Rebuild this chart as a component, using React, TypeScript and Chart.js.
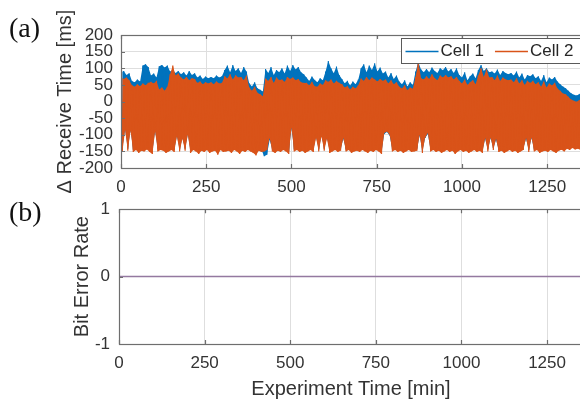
import React, { useEffect, useRef } from "react";
import { Chart, registerables } from "chart.js";

Chart.register(...registerables);

// ---------------- data ----------------
// envelope samples every 8 minutes (upper / lower excursion of each trace)
const SAMPLE_STEP_MIN = 8;
const X_MAX_MIN = 1355;

const cell1High = [
  88, 92, 80, 85, 62, 58, 66, 60, 108, 112,
  104, 78, 84, 72, 106, 110, 102, 108, 90, 95,
  86, 92, 82, 88, 78, 92, 80, 85, 72, 78,
  68, 75, 70, 74, 70, 78, 72, 76, 95, 108,
  88, 110, 92, 100, 86, 104, 90, 55, 45, 58,
  40, 35, 30, 98, 86, 104, 80, 95, 88, 100,
  84, 108, 92, 110, 96, 104, 88, 82, 72, 62,
  75, 65, 58, 70, 64, 90, 122, 100, 85, 105,
  80, 68, 55, 62, 48, 60, 52, 66, 100, 112,
  88, 108, 95, 115, 90, 102, 84, 90, 72, 86,
  68, 78, 60, 52, 64, 45, 58, 50, 90, 118,
  96, 88, 98, 88, 102, 92, 86, 100, 94, 104,
  90, 98, 86, 100, 80, 72, 88, 64, 76, 84,
  70, 95, 110, 92, 100, 88, 90, 84, 96, 80,
  92, 86, 82, 86, 78, 90, 72, 84, 66, 80,
  76, 82, 70, 76, 62, 80, 58, 72, 66, 74,
  60, 52, 45, 40, 32, 25, 20, 18, 22, 30,
];

const cell1Low = [
  -140, -84, -142, -86, -145, -140, -146, -142, -144, -138,
  -146, -150, -88, -142, -140, -142, -148, -144, -140, -146,
  -102, -144, -110, -142, -98, -148, -140, -144, -150, -142,
  -146, -140, -148, -144, -142, -152, -140, -146, -144, -142,
  -148, -140, -144, -150, -142, -146, -140, -144, -148, -158,
  -142, -146, -165, -160, -115, -144, -148, -142, -146, -140,
  -144, -150, -80, -144, -140, -146, -142, -148, -144, -140,
  -146, -105, -144, -102, -142, -108, -148, -144, -140, -146,
  -142, -112, -144, -140, -148, -144, -142, -146, -140, -144,
  -148, -142, -146, -140, -144, -150, -98, -92, -102, -144,
  -140, -146, -142, -148, -144, -140, -146, -144, -142, -102,
  -148, -110, -98, -144, -140, -146, -142, -148, -144, -140,
  -146, -142, -150, -144, -140, -146, -142, -148, -144, -140,
  -146, -142, -148, -112, -144, -110, -140, -115, -146, -142,
  -148, -144, -140, -146, -142, -148, -144, -140, -112, -146,
  -110, -144, -140, -148, -144, -142, -146, -140, -144, -148,
  -142, -140, -144, -136, -140, -134, -138, -136, -140, -144,
];

const cell2High = [
  74, 68, 72, 64, 49, 44, 52, 46, 54, 49,
  56, 59, 54, 62, 36, 42, 32, 44, 82, 108,
  78, 84, 72, 66, 74, 64, 70, 68, 56, 60,
  52, 58, 54, 58, 52, 60, 54, 56, 76, 69,
  82, 66, 79, 72, 74, 64, 78, 42, 32, 44,
  26, 22, 16, 69, 62, 74, 56, 72, 64, 66,
  59, 74, 68, 72, 64, 68, 58, 56, 56, 49,
  59, 46, 44, 54, 50, 64, 59, 66, 54, 62,
  56, 52, 42, 46, 36, 44, 39, 49, 69, 62,
  74, 64, 72, 66, 60, 68, 62, 66, 54, 64,
  52, 58, 44, 39, 49, 34, 42, 38, 74, 120,
  70, 66, 76, 68, 82, 70, 64, 78, 72, 80,
  72, 76, 66, 74, 62, 54, 66, 50, 58, 64,
  52, 78, 100, 74, 96, 72, 74, 64, 78, 62,
  72, 66, 64, 66, 58, 70, 54, 64, 50, 62,
  56, 62, 52, 58, 44, 60, 42, 54, 48, 56,
  39, 32, 24, 22, 14, 6, 2, -1, 4, 12,
];

const cell2Low = [
  -150, -86, -148, -88, -152, -146, -155, -148, -150, -144,
  -152, -158, -90, -150, -146, -148, -155, -150, -146, -152,
  -105, -150, -112, -148, -100, -155, -146, -150, -158, -148,
  -152, -146, -155, -150, -148, -160, -146, -152, -150, -148,
  -155, -146, -150, -158, -148, -152, -146, -150, -155, -162,
  -148, -152, -150, -146, -110, -150, -155, -148, -152, -146,
  -150, -158, -78, -150, -146, -152, -148, -155, -150, -146,
  -152, -110, -150, -105, -148, -112, -155, -150, -146, -152,
  -148, -110, -150, -146, -155, -150, -148, -152, -146, -150,
  -155, -148, -152, -146, -150, -158, -95, -90, -100, -150,
  -146, -152, -148, -155, -150, -146, -152, -150, -148, -100,
  -155, -108, -95, -150, -146, -152, -148, -155, -150, -146,
  -152, -148, -158, -150, -146, -152, -148, -155, -150, -146,
  -152, -148, -155, -110, -150, -108, -146, -112, -152, -148,
  -155, -150, -146, -152, -148, -155, -150, -146, -110, -152,
  -108, -150, -146, -155, -150, -148, -152, -146, -150, -155,
  -148, -145, -150, -142, -146, -140, -144, -142, -146, -150,
];

const berTime = [0, 250, 500, 750, 1000, 1250, 1355];
const berValue = [0, 0, 0, 0, 0, 0, 0];

const xTickValues = [0, 250, 500, 750, 1000, 1250];
const seriesLabels = ["Cell 1", "Cell 2"];

// ---------------- styles ----------------
const FONT = "'Liberation Sans', Arial, Helvetica, sans-serif";
const BLUE = "#0072BD";
const ORANGE = "#D95319";
const PURPLE = "#9479a0";
const GRID = "#dedede";
const BORDER = "#6e6e6e";
const TEXT = "#333333";

type Pt = { x: number; y: number };

function zigzag(hi: number[], lo: number[]): Pt[] {
  const pts: Pt[] = [];
  for (let i = 0; i < hi.length; i++) {
    const t = i * SAMPLE_STEP_MIN;
    pts.push({ x: t, y: hi[i] });
    pts.push({ x: t + SAMPLE_STEP_MIN / 2, y: lo[i] });
  }
  return pts;
}
function envelope(vals: number[], offset: number): Pt[] {
  return vals.map((v, i) => ({ x: i * SAMPLE_STEP_MIN + offset, y: v }));
}

const plainTick = (v: any) => String(v);

function traceDatasets(label: string, legendIndex: number, color: string, hi: number[], lo: number[], baseOrder: number, width: number) {
  return [
    {
      label,
      legendIndex,
      data: zigzag(hi, lo),
      borderColor: color,
      borderWidth: width,
      borderJoinStyle: "bevel",
      pointRadius: 0,
      tension: 0,
      order: baseOrder,
    },
    {
      label: label + " upper",
      data: envelope(hi, 0),
      borderWidth: 0,
      borderColor: "rgba(0,0,0,0)",
      backgroundColor: color,
      fill: "+1",
      pointRadius: 0,
      tension: 0,
      order: baseOrder + 1,
    },
    {
      label: label + " lower",
      data: envelope(lo, SAMPLE_STEP_MIN / 2),
      borderWidth: 0,
      borderColor: "rgba(0,0,0,0)",
      fill: false,
      pointRadius: 0,
      tension: 0,
      order: baseOrder + 2,
    },
  ];
}

function boxPlugin(panelLabel: string, labelY: number, legend: boolean) {
  return {
    id: "matlabBox" + panelLabel,
    afterDatasetsDraw(chart: any) {
      const ctx = chart.ctx;
      const ca = chart.chartArea;
      const xs = chart.scales.x;
      const ys = chart.scales.y;
      ctx.save();
      ctx.strokeStyle = BORDER;
      ctx.lineWidth = 1.2;
      ctx.strokeRect(Math.round(ca.left) + 0.5, Math.round(ca.top) + 0.5,
        Math.round(ca.right - ca.left), Math.round(ca.bottom - ca.top));
      ctx.beginPath();
      xs.ticks.forEach((t: any) => {
        const px = Math.round(xs.getPixelForValue(t.value)) + 0.5;
        ctx.moveTo(px, ca.bottom);
        ctx.lineTo(px, ca.bottom - 4);
        ctx.moveTo(px, ca.top);
        ctx.lineTo(px, ca.top + 4);
      });
      ys.ticks.forEach((t: any) => {
        const py = Math.round(ys.getPixelForValue(t.value)) + 0.5;
        ctx.moveTo(ca.left, py);
        ctx.lineTo(ca.left + 4, py);
      });
      ctx.stroke();

      if (legend) {
        const bx = Math.round(ca.right - 182) + 0.5;
        const by = Math.round(ca.top + 3) + 0.5;
        const bw = 179;
        const bh = 25;
        ctx.fillStyle = "#ffffff";
        ctx.fillRect(bx, by, bw, bh);
        ctx.strokeStyle = "#5a5a5a";
        ctx.lineWidth = 1;
        ctx.strokeRect(bx, by, bw, bh);
        ctx.font = `17px ${FONT}`;
        ctx.textBaseline = "middle";
        ctx.textAlign = "left";
        const cy = by + bh / 2 + 0.5;
        let x = bx + 4;
        chart.data.datasets
          .filter((d: any) => d.legendIndex !== undefined)
          .sort((a: any, b: any) => a.legendIndex - b.legendIndex)
          .forEach((ds: any) => {
            ctx.strokeStyle = ds.borderColor;
            ctx.lineWidth = 1.5;
            ctx.beginPath();
            ctx.moveTo(x, cy);
            ctx.lineTo(x + 33, cy);
            ctx.stroke();
            ctx.fillStyle = "#262626";
            ctx.fillText(ds.label, x + 35, cy);
            x += 35 + ctx.measureText(ds.label).width + 11;
          });
      }

      ctx.fillStyle = "#111111";
      ctx.font = `28px 'Liberation Serif', 'Times New Roman', serif`;
      ctx.textBaseline = "alphabetic";
      ctx.textAlign = "left";
      ctx.fillText(panelLabel, 9, labelY);
      ctx.restore();
    },
  };
}

function xScale(height: number, showTitle: boolean) {
  return {
    type: "linear" as const,
    min: 0,
    max: X_MAX_MIN,
    afterBuildTicks: (s: any) => {
      s.ticks = xTickValues.map((v) => ({ value: v }));
    },
    afterFit: (s: any) => {
      s.height = height;
    },
    grid: { color: GRID, lineWidth: 1, drawTicks: false },
    border: { display: false },
    ticks: {
      color: TEXT,
      font: { size: 17, family: FONT },
      padding: 9,
      maxRotation: 0,
      autoSkip: false,
      callback: plainTick,
    },
    title: {
      display: showTitle,
      text: "Experiment Time [min]",
      color: TEXT,
      font: { size: 20, family: FONT },
      padding: { top: 0, bottom: 19 },
    },
  };
}

export default function App() {
  const topRef = useRef<HTMLCanvasElement>(null);
  const botRef = useRef<HTMLCanvasElement>(null);

  useEffect(() => {
    const top = new Chart(topRef.current as HTMLCanvasElement, {
      type: "line",
      data: {
        datasets: [
          ...traceDatasets(seriesLabels[1], 1, ORANGE, cell2High, cell2Low, 0, 1.2),
          ...traceDatasets(seriesLabels[0], 0, BLUE, cell1High, cell1Low, 3, 1.1),
        ] as any,
      },
      options: {
        responsive: false,
        animation: false,
        parsing: false,
        layout: { padding: { top: 35, right: 57, left: 0, bottom: 0 } },
        plugins: {
          legend: { display: false },
          tooltip: { enabled: false },
          filler: { propagate: false, drawTime: "beforeDatasetDraw" },
        },
        scales: {
          x: xScale(32, false),
          y: {
            min: -200,
            max: 200,
            afterFit: (s: any) => {
              s.width = 121;
            },
            grid: { color: GRID, lineWidth: 1, drawTicks: false },
            border: { display: false },
            ticks: {
              stepSize: 50,
              color: TEXT,
              font: { size: 17, family: FONT },
              padding: 8,
              autoSkip: false,
              callback: plainTick,
            },
            title: {
              display: true,
              text: "Δ Receive Time [ms]",
              color: TEXT,
              font: { size: 20, family: FONT },
              padding: { top: 53, bottom: 0 },
            },
          },
        },
      } as any,
      plugins: [boxPlugin("(a)", 37, true)],
    });

    const bot = new Chart(botRef.current as HTMLCanvasElement, {
      type: "line",
      data: {
        datasets: [
          {
            label: "Bit Error Rate",
            data: berTime.map((t, i) => ({ x: t, y: berValue[i] })),
            borderColor: PURPLE,
            borderWidth: 1.5,
            pointRadius: 0,
            tension: 0,
          },
        ],
      },
      options: {
        responsive: false,
        animation: false,
        parsing: false,
        layout: { padding: { top: 15, right: 57, left: 0, bottom: 0 } },
        plugins: { legend: { display: false }, tooltip: { enabled: false } },
        scales: {
          x: xScale(76, true),
          y: {
            min: -1,
            max: 1,
            afterFit: (s: any) => {
              s.width = 119;
            },
            grid: { color: GRID, lineWidth: 1, drawTicks: false },
            border: { display: false },
            ticks: {
              stepSize: 1,
              color: TEXT,
              font: { size: 17, family: FONT },
              padding: 9,
              autoSkip: false,
              callback: plainTick,
            },
            title: {
              display: true,
              text: "Bit Error Rate",
              color: TEXT,
              font: { size: 20, family: FONT },
              padding: { top: 70, bottom: 0 },
            },
          },
        },
      } as any,
      plugins: [boxPlugin("(b)", 31, false)],
    });

    return () => {
      top.destroy();
      bot.destroy();
    };
  }, []);

  return (
    <div
      style={{
        position: "fixed",
        left: 0,
        top: 0,
        width: 580,
        height: 399,
        overflow: "hidden",
        background: "#ffffff",
      }}
    >
      <canvas ref={topRef} width={640} height={200} style={{ position: "absolute", left: 0, top: 0 }} />
      <canvas ref={botRef} width={640} height={230} style={{ position: "absolute", left: 0, top: 190 }} />
    </div>
  );
}
